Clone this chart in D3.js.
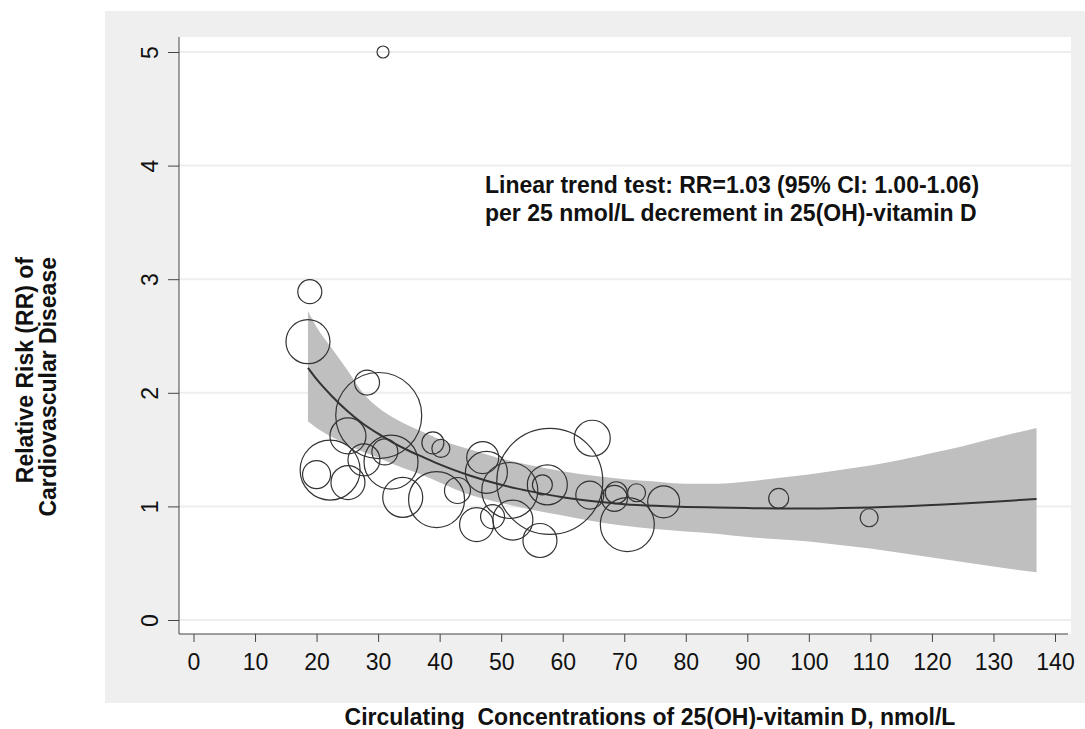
<!DOCTYPE html>
<html>
<head>
<meta charset="utf-8">
<script src="https://cdn.jsdelivr.net/npm/d3@7/dist/d3.min.js"></script>
<style>
  html, body { margin: 0; padding: 0; background: #ffffff; }
  svg { display: block; }
  text { font-family: "Liberation Sans", Arial, Helvetica, sans-serif; fill: #111; }
</style>
</head>
<body>
<svg id="chart" width="1085" height="729"></svg>
<script>
// ---------------- data ----------------
const xTicks = [0, 10, 20, 30, 40, 50, 60, 70, 80, 90, 100, 110, 120, 130, 140];
const yTicks = [0, 1, 2, 3, 4, 5];

// individual study estimates: vitamin D level, relative risk, study weight
const studyVitD = [30.8, 18.9, 18.6, 28.2, 30.1, 25.1, 22.2, 20.0, 25.1, 27.7,
                   31.1, 32.1, 34.0, 38.9, 40.2, 39.5, 42.9, 47.0, 47.6, 46.0,
                   48.6, 51.4, 51.9, 56.3, 57.9, 57.5, 56.7, 64.8, 64.4, 68.7,
                   68.4, 72.0, 76.4, 70.5, 95.1, 109.8];
const studyRR   = [5.00, 2.89, 2.45, 2.09, 1.80, 1.62, 1.32, 1.28, 1.21, 1.41,
                   1.48, 1.39, 1.08, 1.56, 1.51, 1.06, 1.14, 1.43, 1.30, 0.84,
                   0.91, 1.14, 0.88, 0.70, 1.22, 1.19, 1.19, 1.60, 1.10, 1.12,
                   1.07, 1.12, 1.04, 0.84, 1.07, 0.90];
const studyWeight = [0.36, 1.44, 4.84, 1.56, 18.5, 3.24, 9.0, 1.96, 2.89, 2.56,
                     1.69, 7.29, 4.0, 1.21, 0.81, 7.84, 1.69, 2.56, 4.41, 2.89,
                     1.44, 7.84, 4.0, 2.89, 28.1, 4.0, 1.0, 3.24, 1.96, 1.21,
                     1.69, 0.81, 2.56, 7.29, 1.0, 0.81];

// fitted dose-response curve and 95% CI
const fitVitD = [18.6, 20, 22.5, 25, 27.5, 30, 32.5, 35, 37.5, 40, 45, 50, 55, 60, 65,
                 70, 75, 80, 85, 90, 95, 100, 105, 110, 115, 120, 125, 130, 137];
const fitRR   = [2.22, 2.12, 1.97, 1.84, 1.73, 1.64, 1.56, 1.49, 1.43, 1.37, 1.27, 1.19, 1.13, 1.08, 1.045,
                 1.02, 1.005, 0.995, 0.99, 0.985, 0.982, 0.982, 0.985, 0.99, 1.00, 1.012, 1.025, 1.04, 1.065];
const ciHigh  = [2.72, 2.58, 2.39, 2.20, 2.00, 1.87, 1.78, 1.71, 1.65, 1.59, 1.50, 1.42, 1.36, 1.31, 1.27,
                 1.24, 1.22, 1.20, 1.20, 1.22, 1.25, 1.28, 1.32, 1.36, 1.41, 1.47, 1.53, 1.60, 1.69];
const ciLow   = [1.75, 1.69, 1.61, 1.54, 1.48, 1.43, 1.37, 1.32, 1.27, 1.21, 1.10, 1.03, 0.97, 0.92, 0.87,
                 0.83, 0.80, 0.78, 0.76, 0.73, 0.71, 0.69, 0.66, 0.63, 0.59, 0.55, 0.51, 0.47, 0.42];

const xTitle = "Circulating\u00A0 Concentrations of 25(OH)-vitamin D, nmol/L";
const yTitle = ["Relative Risk (RR) of", "Cardiovascular Disease"];
const noteLines = ["Linear trend test: RR=1.03 (95% CI: 1.00-1.06)",
                   "per 25 nmol/L decrement in 25(OH)-vitamin D"];

// ---------------- layout ----------------
const svg = d3.select("#chart");
const panel = {x: 105, y: 11, w: 980, h: 692};
const plot = {x0: 179, x1: 1071, y0: 37, y1: 634};

const x = d3.scaleLinear().domain([0, 140]).range([193.5, 1055]);
const y = d3.scaleLinear().domain([0, 5]).range([620, 52]);
const r = d3.scaleSqrt().domain([0, 1]).range([0, 10]);

svg.append("rect").attr("x", panel.x).attr("y", panel.y)
   .attr("width", panel.w).attr("height", panel.h).attr("fill", "#efefef");
svg.append("rect").attr("x", plot.x0).attr("y", plot.y0)
   .attr("width", plot.x1 - plot.x0).attr("height", plot.y1 - plot.y0).attr("fill", "#ffffff");

// gridlines
svg.append("g").selectAll("line").data(yTicks).join("line")
  .attr("x1", plot.x0).attr("x2", plot.x1)
  .attr("y1", d => y(d)).attr("y2", d => y(d))
  .attr("stroke", "#eeeeee").attr("stroke-width", 2);

// CI band
const fitData = fitVitD.map((v, i) => ({x: v, fit: fitRR[i], lo: ciLow[i], hi: ciHigh[i]}));
svg.append("path").datum(fitData)
  .attr("d", d3.area().x(d => x(d.x)).y0(d => y(d.lo)).y1(d => y(d.hi)).curve(d3.curveMonotoneX))
  .attr("fill", "#bfbfbf");

// fitted line
svg.append("path").datum(fitData)
  .attr("d", d3.line().x(d => x(d.x)).y(d => y(d.fit)).curve(d3.curveMonotoneX))
  .attr("fill", "none").attr("stroke", "#333").attr("stroke-width", 2);

// study bubbles
const studies = studyVitD.map((v, i) => ({x: v, rr: studyRR[i], w: studyWeight[i]}));
svg.append("g").selectAll("circle").data(studies).join("circle")
  .attr("cx", d => x(d.x)).attr("cy", d => y(d.rr)).attr("r", d => r(d.w))
  .attr("fill", "none").attr("stroke", "#333").attr("stroke-width", 1.2);

// axes
const xAxis = svg.append("g").attr("transform", `translate(0,${plot.y1})`)
  .call(d3.axisBottom(x).tickValues(xTicks).tickFormat(d3.format("d")).tickSize(8).tickSizeOuter(0));
xAxis.select(".domain").attr("d", `M${plot.x0},0H${plot.x1 - 3}`).attr("stroke", "#444");
xAxis.selectAll(".tick line").attr("stroke", "#444");
xAxis.selectAll(".tick text").attr("y", 36).attr("dy", null)
  .attr("font-size", 23).attr("fill", "#111");

const yAxis = svg.append("g").attr("transform", `translate(${plot.x0},0)`)
  .call(d3.axisLeft(y).tickValues(yTicks).tickFormat(d3.format("d")).tickSize(11).tickSizeOuter(0));
yAxis.select(".domain").attr("d", `M0,${plot.y0}V${plot.y1}`).attr("stroke", "#444");
yAxis.selectAll(".tick line").attr("stroke", "#444");
yAxis.selectAll(".tick text").attr("x", null).attr("dy", null)
  .attr("text-anchor", "middle")
  .attr("transform", "translate(-21,0) rotate(-90)")
  .attr("font-size", 23).attr("fill", "#111");
svg.selectAll(".tick text").attr("font-family", "'Liberation Sans', Arial, sans-serif");

// titles
svg.append("text").attr("x", 650).attr("y", 725).attr("text-anchor", "middle")
  .attr("font-size", 23).attr("font-weight", "bold").text(xTitle);

svg.append("g").attr("transform", "translate(0,257) rotate(-90)")
  .selectAll("text").data(yTitle).join("text")
  .attr("x", 0).attr("y", (d, i) => 33 + i * 23)
  .attr("text-anchor", "end")
  .attr("font-size", 23).attr("font-weight", "bold").text(d => d);

svg.append("g").selectAll("text").data(noteLines).join("text")
  .attr("x", 485).attr("y", (d, i) => 193 + i * 28)
  .attr("font-size", 23).attr("font-weight", "bold").text(d => d);
</script>
</body>
</html>
